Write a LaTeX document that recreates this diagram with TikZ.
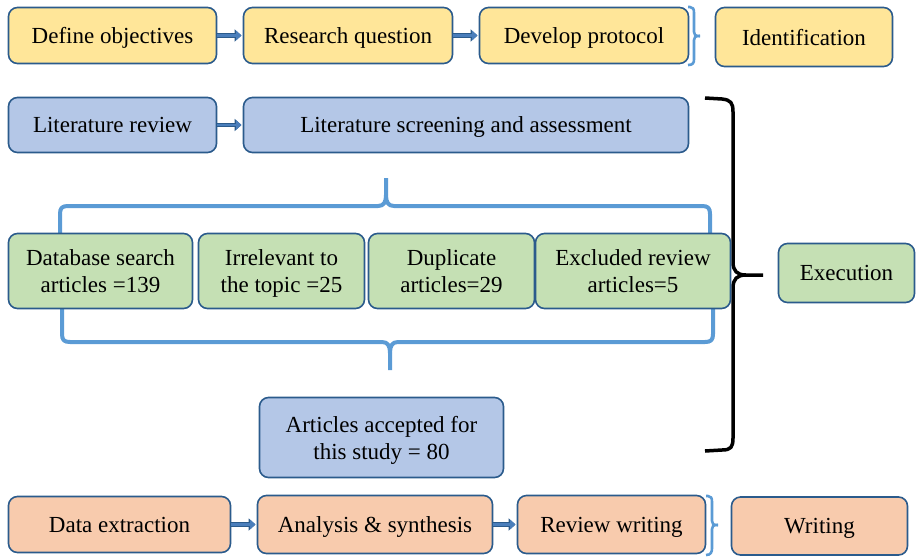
\documentclass[tikz,border=0pt]{standalone}
\usepackage{fontspec}
\setmainfont{Liberation Serif}
\usetikzlibrary{arrows.meta}
\definecolor{yfill}{HTML}{FFE699}
\definecolor{bfill}{HTML}{B4C7E7}
\definecolor{gfill}{HTML}{C5E0B4}
\definecolor{ofill}{HTML}{F8CBAD}
\definecolor{bord}{HTML}{2B5B8C}
\definecolor{arrfill}{HTML}{4A7EBB}
\definecolor{arrdark}{HTML}{2B5B8C}
\definecolor{brblue}{HTML}{5B9BD5}
\tikzset{
  box/.style={draw=bord, line width=1.6pt, rounded corners=9pt, align=center, inner sep=0pt,
    text depth=0pt, font=\fontsize{23}{27}\selectfont},
  ybox/.style={box, fill=yfill},
  bbox/.style={box, fill=bfill},
  gbox/.style={box, fill=gfill},
  obox/.style={box, fill=ofill},
  blk/.style={arrfill, line width=2.8pt, -{Triangle[length=5.5pt,width=9.5pt]}, shorten >=1.2pt,
    preaction={draw=arrdark, line width=4.6pt, -{Triangle[length=7pt,width=12pt]}}},
  bluebrace/.style={draw=brblue, line width=4pt, line join=round},
  smallbrace/.style={draw=brblue, line width=2.6pt, line join=round},
  blackbrace/.style={draw=black, line width=3.5pt, line join=round}
}
\begin{document}
\begin{tikzpicture}[x=1pt,y=-1pt]
\useasboundingbox (0,0) rectangle (917,557);
% braces behind boxes
\draw[bluebrace] (60,234) -- (60,214) .. controls (60,208) and (62,206) .. (68,206) -- (378,206)
  .. controls (384,206) and (386,202) .. (386,195) -- (386,178);
\draw[bluebrace] (386,195) .. controls (386,202) and (388,206) .. (394,206) -- (702,206)
  .. controls (708,206) and (710,208) .. (710,214) -- (710,234);
\draw[bluebrace] (62,309) -- (62,334) .. controls (62,340) and (64,342) .. (70,342) -- (382,342)
  .. controls (388,342) and (390,346) .. (390,353) -- (390,370);
\draw[bluebrace] (390,353) .. controls (390,346) and (392,342) .. (398,342) -- (705,342)
  .. controls (711,342) and (713,340) .. (713,334) -- (713,309);
\draw[blackbrace] (705,98) -- (722,99) .. controls (731,100) and (733,103) .. (733,112) -- (733,262)
  .. controls (733,271) and (737,275) .. (746,275) -- (763,275);
\draw[blackbrace] (746,275) .. controls (737,275) and (733,279) .. (733,288) -- (733,438)
  .. controls (733,447) and (731,450) .. (722,450) -- (705,451);
\draw[smallbrace] (688,7) -- (690,7) .. controls (693,7) and (694,9) .. (694,13) -- (694,32)
  .. controls (694,35) and (695,36) .. (700,36);
\draw[smallbrace] (700,36) .. controls (695,36) and (694,37) .. (694,40) -- (694,59)
  .. controls (694,63) and (693,65) .. (688,65);
\draw[smallbrace] (706,496) -- (708,496) .. controls (711,496) and (712,498) .. (712,502) -- (712,521)
  .. controls (712,524) and (713,525) .. (718,525);
\draw[smallbrace] (718,525) .. controls (713,525) and (712,526) .. (712,529) -- (712,548)
  .. controls (712,552) and (711,555) .. (706,555);
% row 1
\node[ybox, minimum width=208pt, minimum height=56pt] (def) at (112.5,35.5) {Define objectives};
\node[ybox, minimum width=209pt, minimum height=56pt] (rq) at (348,35.5) {Research question};
\node[ybox, minimum width=209pt, minimum height=56pt] (dp) at (584,35.5) {Develop protocol};
\node[ybox, minimum width=177pt, minimum height=59pt] (idf) at (804,37) {Identification};
% row 2
\node[bbox, minimum width=208pt, minimum height=55pt] (lr) at (112.5,125) {Literature review};
\node[bbox, minimum width=445pt, minimum height=55pt] (ls) at (466,125) {Literature screening and assessment};
% green row
\node[gbox, minimum width=184pt, minimum height=75pt] (db) at (100.5,271) {Database search\\articles =139};
\node[gbox, minimum width=166pt, minimum height=75pt] (irr) at (281.5,271) {Irrelevant to\\the topic =25};
\node[gbox, minimum width=166pt, minimum height=75pt] (dup) at (451.5,271) {Duplicate\\articles=29};
\node[gbox, minimum width=195pt, minimum height=75pt] (exc) at (633,271) {Excluded review\\articles=5};
\node[gbox, minimum width=136pt, minimum height=59pt] (exe) at (846.5,273) {Execution};
% accepted
\node[bbox, minimum width=244pt, minimum height=80pt] (acc) at (381.5,437.5) {Articles accepted for\\this study = 80};
% bottom row
\node[obox, minimum width=222pt, minimum height=56pt] (dx) at (119.5,524.5) {Data extraction};
\node[obox, minimum width=235pt, minimum height=58pt] (an) at (375,524.5) {Analysis \& synthesis};
\node[obox, minimum width=188pt, minimum height=58pt] (rw) at (611.5,524.5) {Review writing};
\node[obox, minimum width=176pt, minimum height=58pt] (wr) at (819.5,526) {Writing};
% arrows
\draw[blk] (def) -- (rq);
\draw[blk] (rq) -- (dp);
\draw[blk] (lr) -- (ls);
\draw[blk] (dx) -- (an);
\draw[blk] (an) -- (rw);
\end{tikzpicture}
\end{document}
